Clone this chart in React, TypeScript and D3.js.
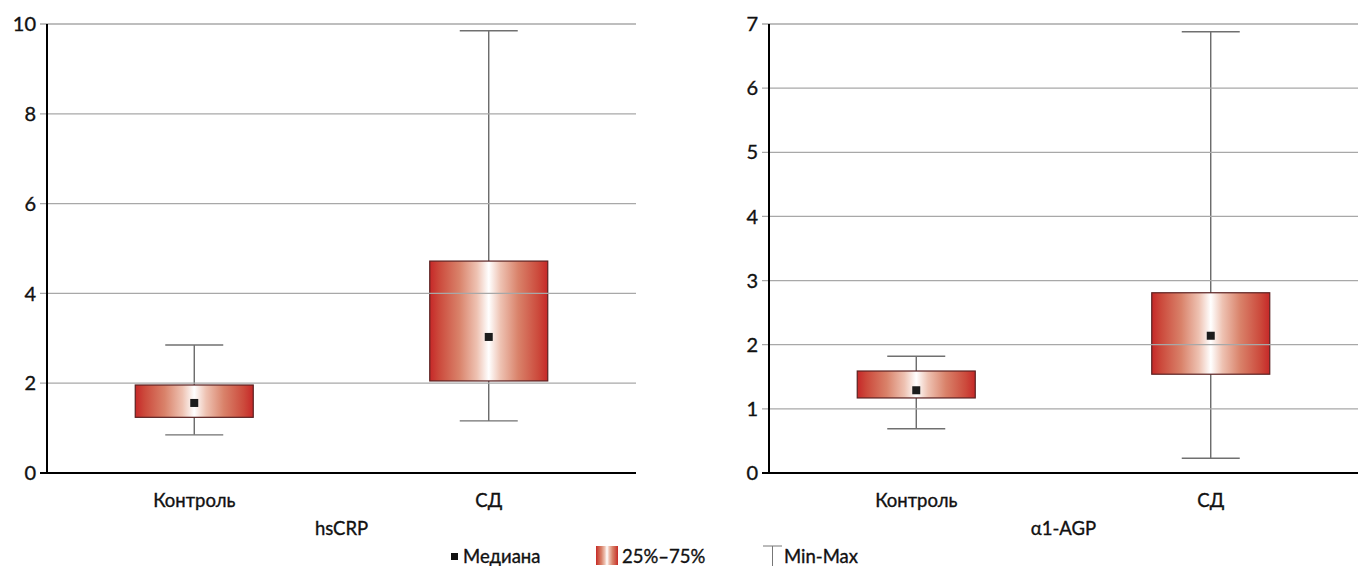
import React, { useEffect, useRef } from 'react';
import * as d3 from 'd3';

const groups = ['Контроль', 'СД'];

// hsCRP
const crpMin = [0.85, 1.16];
const crpQ1 = [1.24, 2.05];
const crpMedian = [1.56, 3.03];
const crpQ3 = [1.96, 4.72];
const crpMax = [2.85, 9.85];
const crpTicks = [0, 2, 4, 6, 8, 10];

// α1-AGP
const agpMin = [0.69, 0.23];
const agpQ1 = [1.17, 1.54];
const agpMedian = [1.29, 2.14];
const agpQ3 = [1.59, 2.81];
const agpMax = [1.82, 6.88];
const agpTicks = [0, 1, 2, 3, 4, 5, 6, 7];

const legendLabels = ['Медиана', '25%–75%', 'Min-Max'];

const FONT = 'Lato, "Noto Sans", sans-serif';

// text helper, slight stroke to get the medium weight of the original
const label = (sel: any, size: number) =>
  sel
    .attr('font-family', FONT)
    .attr('font-size', size)
    .attr('fill', '#111')
    .attr('stroke', '#111')
    .attr('stroke-width', 0.35);

const App = () => {
  const ref = useRef<SVGSVGElement>(null);

  useEffect(() => {
    const svg = d3.select(ref.current);
    svg.selectAll('*').remove();

    const defs = svg.append('defs');
    const grad = defs
      .append('linearGradient')
      .attr('id', 'boxGrad')
      .attr('x1', '0%')
      .attr('x2', '100%')
      .attr('y1', '0%')
      .attr('y2', '0%');
    const stops = [
      [0, '#c62828'],
      [0.08, '#cc4a3c'],
      [0.25, '#d9826a'],
      [0.4, '#eec2b2'],
      [0.5, '#ffffff'],
      [0.6, '#eec2b2'],
      [0.75, '#d9826a'],
      [0.92, '#cc4a3c'],
      [1, '#c62828'],
    ];
    stops.forEach(([o, c]) => {
      grad.append('stop').attr('offset', o as number).attr('stop-color', c as string);
    });

    const top = 24;
    const bottom = 473;

    const drawPanel = (
      left: number,
      right: number,
      ymax: number,
      ticks: number[],
      mins: number[],
      q1: number[],
      med: number[],
      q3: number[],
      maxs: number[],
      title: string
    ) => {
      const g = svg.append('g');
      const y = d3.scaleLinear().domain([0, ymax]).range([bottom, top]);
      const x = d3.scalePoint<string>().domain(groups).range([left, right]).padding(0.5);
      const boxW = 118;
      const capW = 58;

      // whiskers and boxes
      groups.forEach((name, i) => {
        const cx = x(name)!;
        g.append('line')
          .attr('x1', cx)
          .attr('x2', cx)
          .attr('y1', y(maxs[i]))
          .attr('y2', y(mins[i]))
          .attr('stroke', '#5e5e5e')
          .attr('stroke-width', 1.3);
        [mins[i], maxs[i]].forEach((v) => {
          g.append('line')
            .attr('x1', cx - capW / 2)
            .attr('x2', cx + capW / 2)
            .attr('y1', y(v))
            .attr('y2', y(v))
            .attr('stroke', '#707070')
            .attr('stroke-width', 1.4);
        });
        g.append('rect')
          .attr('x', cx - boxW / 2)
          .attr('y', y(q3[i]))
          .attr('width', boxW)
          .attr('height', y(q1[i]) - y(q3[i]))
          .attr('fill', 'url(#boxGrad)')
          .attr('stroke', '#5a2020')
          .attr('stroke-width', 1.2);
      });

      // gridlines over the boxes
      ticks.forEach((t) => {
        if (t === 0) return;
        g.append('line')
          .attr('x1', left - 7)
          .attr('x2', right)
          .attr('y1', y(t))
          .attr('y2', y(t))
          .attr('stroke', '#a8a8a8')
          .attr('stroke-width', 1.3);
      });

      // medians
      groups.forEach((name, i) => {
        const cx = x(name)!;
        g.append('rect')
          .attr('x', cx - 4)
          .attr('y', y(med[i]) - 4)
          .attr('width', 8)
          .attr('height', 8)
          .attr('fill', '#1c1c1c');
      });

      // axes
      g.append('line')
        .attr('x1', left)
        .attr('x2', left)
        .attr('y1', top)
        .attr('y2', bottom + 1)
        .attr('stroke', '#000')
        .attr('stroke-width', 2);
      g.append('line')
        .attr('x1', left - 7)
        .attr('x2', right)
        .attr('y1', bottom)
        .attr('y2', bottom)
        .attr('stroke', '#000')
        .attr('stroke-width', 2);

      ticks.forEach((t) => {
        label(g.append('text'), 20)
          .attr('x', left - 11)
          .attr('y', y(t))
          .attr('dy', '0.36em')
          .attr('text-anchor', 'end')
          .text(t);
      });

      groups.forEach((name) => {
        label(g.append('text'), 18.5)
          .attr('x', x(name)!)
          .attr('y', 507)
          .attr('text-anchor', 'middle')
          .text(name);
      });

      label(g.append('text'), 18.5)
        .attr('x', (left + right) / 2)
        .attr('y', 535)
        .attr('text-anchor', 'middle')
        .text(title);
    };

    drawPanel(47, 636, 10, crpTicks, crpMin, crpQ1, crpMedian, crpQ3, crpMax, 'hsCRP');
    drawPanel(769, 1358, 7, agpTicks, agpMin, agpQ1, agpMedian, agpQ3, agpMax, 'α1-AGP');

    // legend
    const lg = svg.append('g');
    const ly = 556;
    lg.append('rect').attr('x', 451).attr('y', ly - 3).attr('width', 7).attr('height', 7).attr('fill', '#111');
    label(lg.append('text'), 18.5)
      .attr('x', 463)
      .attr('y', ly)
      .attr('dy', '0.36em')
      .text(legendLabels[0]);
    lg.append('rect')
      .attr('x', 596)
      .attr('y', ly - 10)
      .attr('width', 22)
      .attr('height', 19)
      .attr('fill', 'url(#boxGrad)');
    label(lg.append('text'), 18.5)
      .attr('x', 622)
      .attr('y', ly)
      .attr('dy', '0.36em')
      .text(legendLabels[1]);
    lg.append('line')
      .attr('x1', 763)
      .attr('x2', 782)
      .attr('y1', ly - 10)
      .attr('y2', ly - 10)
      .attr('stroke', '#777')
      .attr('stroke-width', 1);
    lg.append('line')
      .attr('x1', 772.5)
      .attr('x2', 772.5)
      .attr('y1', ly - 10)
      .attr('y2', ly + 10)
      .attr('stroke', '#777')
      .attr('stroke-width', 1);
    label(lg.append('text'), 18.5)
      .attr('x', 784)
      .attr('y', ly)
      .attr('dy', '0.36em')
      .text(legendLabels[2]);
  }, []);

  return (
    <svg
      ref={ref}
      width={1363}
      height={566}
      style={{ position: 'absolute', left: 0, top: 0, background: '#fff' }}
    />
  );
};

export default App;
